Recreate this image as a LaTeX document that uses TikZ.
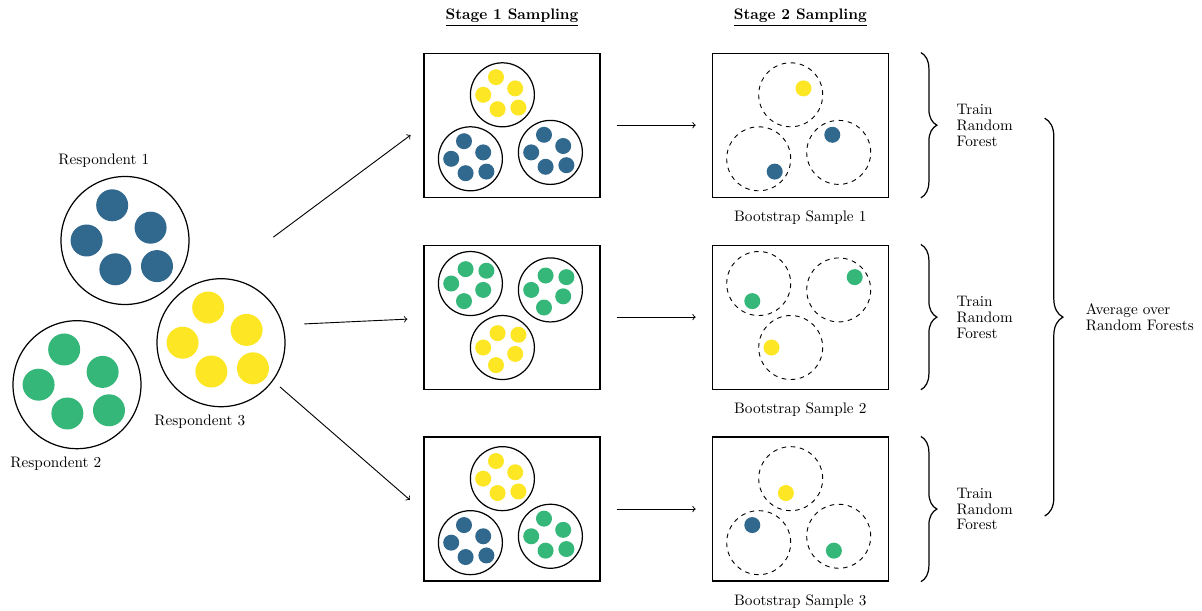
\documentclass[tikz,border=0pt]{standalone}
\usepackage{xcolor}
\usetikzlibrary{positioning}
\usetikzlibrary{decorations.pathreplacing}

\definecolor{vblue}{HTML}{31688E}
\definecolor{vgreen}{HTML}{35B779}
\definecolor{vyellow}{HTML}{FDE725}

\newlength{\gridstep}
\setlength{\gridstep}{21.03pt}

\tikzset{
  ring/.style={draw, thick},
  slot/.style={draw, semithick, dashed},
  frame/.style={draw, thick, minimum width=5.5*\gridstep, minimum height=4.5*\gridstep},
  flow/.style={->, semithick},
  title/.style={font=\bfseries},
  note/.style={align=left, font=\fontsize{10}{10.4}\selectfont},
  curly/.style={decorate, decoration={brace, amplitude=#1}, thick},
  curly/.default=10.5pt,
  pics/crowd/.style={code={
    \foreach \x/\y in {-0.4/1.1, 0.8/0.4, -1.2/0, -0.3/-0.9, 1/-0.8}
      \fill[#1] (\x,\y) circle (0.5);
    \draw[ring] (0,0) circle (2);
  }},
  pics/pick/.style 2 args={code={
    \fill[#1] #2 circle (0.5);
    \draw[slot] (0,0) circle (2);
  }}
}

\begin{document}
\begin{tikzpicture}[x=\gridstep, y=\gridstep]
  \useasboundingbox (0,0) rectangle (37.5625,19.0625);

  % respondents
  \coordinate (r1) at (3.906,11.547);
  \coordinate (r2) at (2.406,7.041);
  \coordinate (r3) at (6.906,8.353);
  \pic at (r1) {crowd=vblue};
  \pic at (r2) {crowd=vgreen};
  \pic at (r3) {crowd=vyellow};
  \node (r1l) at ([shift={(-0.66,2.5)}]r1) {Respondent 1};
  \node (r2l) at ([shift={(-0.66,-2.47)}]r2) {Respondent 2};
  \node (r3l) at ([shift={(-0.66,-2.47)}]r3) {Respondent 3};

  % stage 1 frames
  \node[frame] (s1t) at (16,15.15) {};
  \node[frame, below=30.7pt of s1t] (s1m) {};
  \node[frame, below=30.7pt of s1m] (s1b) {};
  \node[title, above=14pt of s1t] (h1) {\underline{Stage 1 Sampling}};

  % stage 2 frames
  \node[frame, right=73pt of s1t] (s2t) {};
  \node[frame, right=73pt of s1m] (s2m) {};
  \node[frame, right=73pt of s1b] (s2b) {};
  \node[title, above=14pt of s2t] (h2) {\underline{Stage 2 Sampling}};
  \node[below=5pt of s2t] (bs1) {Bootstrap Sample 1};
  \node[below=5pt of s2m] (bs2) {Bootstrap Sample 2};
  \node[below=5pt of s2b] (bs3) {Bootstrap Sample 3};

  % stage 1 draws
  \pic[scale=.5] at ([shift={(-0.3,0.95)}]s1t) {crowd=vyellow};
  \pic[scale=.5] at ([shift={(-1.3,-1.05)}]s1t) {crowd=vblue};
  \pic[scale=.5] at ([shift={(1.2,-0.85)}]s1t) {crowd=vblue};

  \pic[xscale=.5, yscale=-.5] at ([shift={(-1.3,1.05)}]s1m) {crowd=vgreen};
  \pic[xscale=.5, yscale=-.5] at ([shift={(1.2,0.85)}]s1m) {crowd=vgreen};
  \pic[xscale=.5, yscale=-.5] at ([shift={(-0.3,-0.95)}]s1m) {crowd=vyellow};

  \pic[scale=.5] at ([shift={(-0.3,0.95)}]s1b) {crowd=vyellow};
  \pic[scale=.5] at ([shift={(-1.3,-1.05)}]s1b) {crowd=vblue};
  \pic[scale=.5] at ([shift={(1.2,-0.85)}]s1b) {crowd=vgreen};

  % stage 2 draws
  \pic[scale=.5] at ([shift={(-0.3,0.95)}]s2t) {pick={vyellow}{(0.8,0.4)}};
  \pic[scale=.5] at ([shift={(-1.3,-1.05)}]s2t) {pick={vblue}{(1,-0.8)}};
  \pic[scale=.5] at ([shift={(1.2,-0.85)}]s2t) {pick={vblue}{(-0.4,1.1)}};

  \pic[xscale=.5, yscale=-.5] at ([shift={(-1.3,1.05)}]s2m) {pick={vgreen}{(-0.4,1.1)}};
  \pic[xscale=.5, yscale=-.5] at ([shift={(1.2,0.85)}]s2m) {pick={vgreen}{(1,-0.8)}};
  \pic[xscale=.5, yscale=-.5] at ([shift={(-0.3,-0.95)}]s2m) {pick={vyellow}{(-1.2,0)}};

  \pic[scale=.5] at ([shift={(-0.3,0.95)}]s2b) {pick={vyellow}{(-0.3,-0.9)}};
  \pic[scale=.5] at ([shift={(-1.3,-1.05)}]s2b) {pick={vblue}{(-0.4,1.1)}};
  \pic[scale=.5] at ([shift={(1.2,-0.85)}]s2b) {pick={vgreen}{(-0.3,-0.9)}};

  % arrows
  \coordinate (a1) at (8.54,11.65);
  \coordinate (a2) at (9.51,8.94);
  \coordinate (a3) at (8.75,6.97);
  \coordinate (e1) at (12.83,14.84);
  \coordinate (e2) at (12.73,9.09);
  \coordinate (e3) at (12.81,3.44);
  \draw[flow] (a1) -- (e1);
  \draw[flow] (a2) -- (e2);
  \draw[flow] (a3) -- (e3);
  \draw[flow, shorten <=10.5pt, shorten >=10.5pt] (s1t) -- (s2t);
  \draw[flow, shorten <=10.5pt, shorten >=10.5pt] (s1m) -- (s2m);
  \draw[flow, shorten <=10.5pt, shorten >=10.5pt] (s1b) -- (s2b);

  % braces
  \node[note, right=41pt of s2t] (t1) {Train\\Random\\Forest};
  \node[note, right=41pt of s2m] (t2) {Train\\Random\\Forest};
  \node[note, right=41pt of s2b] (t3) {Train\\Random\\Forest};
  \draw[curly] ([xshift=\gridstep]s2t.north east) -- ([xshift=\gridstep]s2t.south east);
  \draw[curly] ([xshift=\gridstep]s2m.north east) -- ([xshift=\gridstep]s2m.south east);
  \draw[curly] ([xshift=\gridstep]s2b.north east) -- ([xshift=\gridstep]s2b.south east);
  \draw[curly=12pt] ([shift={(17.5pt,4.6pt)}]t1.east) -- ([shift={(17.5pt,-4.6pt)}]t3.east);
  \node[note, right=41pt of t2] (avg) {Average over\\Random Forests};
\end{tikzpicture}
\end{document}
